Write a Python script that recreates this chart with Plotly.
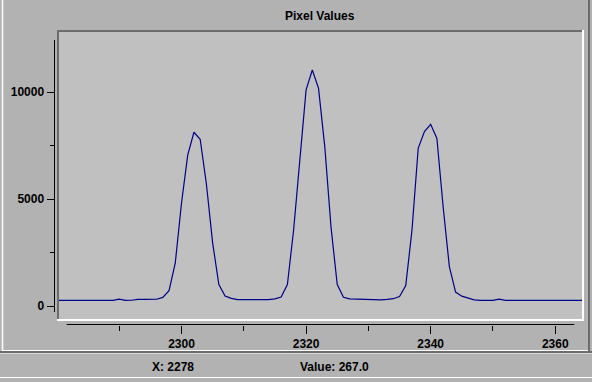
import plotly.graph_objects as go

# ---- data ----
pixel_index = list(range(2278, 2367))
pixel_values = [
    267, 267, 267, 267, 267, 267, 267, 267, 267, 267,   # 2278-2287
    267, 267, 320, 267, 268, 310, 310, 312, 315, 400,   # 2288-2297
    720, 2000, 4800, 7050, 8120, 7790, 5700, 2950, 1000, 470,   # 2298-2307
    360, 300, 290, 290, 290, 295, 300, 330, 420, 1000,  # 2308-2317
    3550, 7000, 10100, 11030, 10170, 7450, 3700, 1000, 410, 330,  # 2318-2327
    320, 330, 300, 320, 290, 310, 340, 440, 950, 3550,  # 2328-2337
    7370, 8150, 8490, 7830, 4640, 1840, 650, 460, 360, 290,  # 2338-2347
    267, 267, 267, 320, 267, 267, 267, 267, 267, 267,   # 2348-2357
    267, 267, 267, 267, 267, 267, 267, 267, 267,        # 2358-2366
]
x_major_ticks = [2300, 2320, 2340, 2360]
x_minor_ticks = [2290, 2310, 2330, 2350]
y_major_ticks = [0, 5000, 10000]
y_minor_ticks = [2500, 7500]
title_text = "Pixel Values"
status_x_text = "X: 2278"
status_value_text = "Value: 267.0"

W, H = 592, 382


def fx(px):
    return px / W


def fy(py):
    return 1 - py / H


FONT = "Liberation Sans, Arial, sans-serif"
DARK = "#6c6c6c"

fig = go.Figure(
    go.Scatter(
        x=pixel_index, y=pixel_values, mode="lines",
        line=dict(color="#000088", width=1.2), hoverinfo="skip",
    )
)

tickfont = dict(family=FONT, size=12, color="black", weight="bold")

fig.update_layout(
    width=W, height=H,
    margin=dict(l=0, r=0, t=0, b=0, pad=0),
    paper_bgcolor="#b2b2b2",
    plot_bgcolor="#c0c0c0",
    showlegend=False,
    xaxis=dict(
        domain=[fx(58), fx(582)], range=[2280.18, 2364.29],
        anchor="free", position=fy(324.5),
        showline=False, showgrid=False, zeroline=False,
        ticks="outside", ticklen=8, tickwidth=1, tickcolor="black",
        tickvals=x_major_ticks, ticktext=[str(v) for v in x_major_ticks],
        minor=dict(tickvals=x_minor_ticks, ticks="outside", ticklen=5,
                   tickwidth=1, tickcolor="black", showgrid=False),
        tickfont=tickfont, automargin=False, fixedrange=True,
    ),
    yaxis=dict(
        domain=[fy(320), fy(31)], range=[-654.2, 12850.5],
        anchor="free", position=fx(54.5),
        showline=False, showgrid=False, zeroline=False,
        ticks="outside", ticklen=8, tickwidth=1, tickcolor="black",
        tickvals=y_major_ticks, ticktext=[str(v) for v in y_major_ticks],
        minor=dict(tickvals=y_minor_ticks, ticks="outside", ticklen=5,
                   tickwidth=1, tickcolor="black", showgrid=False),
        tickfont=tickfont, automargin=False, fixedrange=True,
    ),
)


def line(x0, y0, x1, y1, color, width):
    return dict(type="line", xref="paper", yref="paper",
                x0=fx(x0), y0=fy(y0), x1=fx(x1), y1=fy(y1),
                line=dict(color=color, width=width), layer="above")


shapes = [
    # axis lines
    line(54.5, 40, 54.5, 312, "black", 1),
    line(66.7, 324.5, 574.3, 324.5, "black", 1),
    # plot-area sunken border
    line(57, 31, 584, 31, DARK, 2),
    line(58, 30, 58, 321, DARK, 2),
    line(57, 320, 584, 320, "white", 2),
    line(583, 30, 583, 321, "white", 2),
    # outer panel frame
    line(2.5, 0, 2.5, 350.5, "white", 1.5),
    line(2, 350.5, 589, 350.5, "white", 1),
    line(0, 352, 592, 352, DARK, 2),
    line(589, 0, 589, 352, DARK, 2),
    line(0, 353.5, 592, 353.5, "#d8d8d8", 1),
    line(0, 377.5, 592, 377.5, "white", 1),
]
fig.update_layout(shapes=shapes)

annfont = dict(family=FONT, size=12, color="black")
fig.add_annotation(x=fx(320), y=fy(16), xref="paper", yref="paper",
                   text="<b>" + title_text + "</b>", showarrow=False,
                   xanchor="center", yanchor="middle", font=annfont)
fig.add_annotation(x=fx(173), y=fy(367), xref="paper", yref="paper",
                   text="<b>" + status_x_text + "</b>", showarrow=False,
                   xanchor="center", yanchor="middle", font=annfont)
fig.add_annotation(x=fx(334), y=fy(367), xref="paper", yref="paper",
                   text="<b>" + status_value_text + "</b>", showarrow=False,
                   xanchor="center", yanchor="middle", font=annfont)

fig.write_html(
    "out.html",
    config=dict(displayModeBar=False),
    post_script="document.body.style.margin='0';document.body.style.overflow='hidden';",
)
